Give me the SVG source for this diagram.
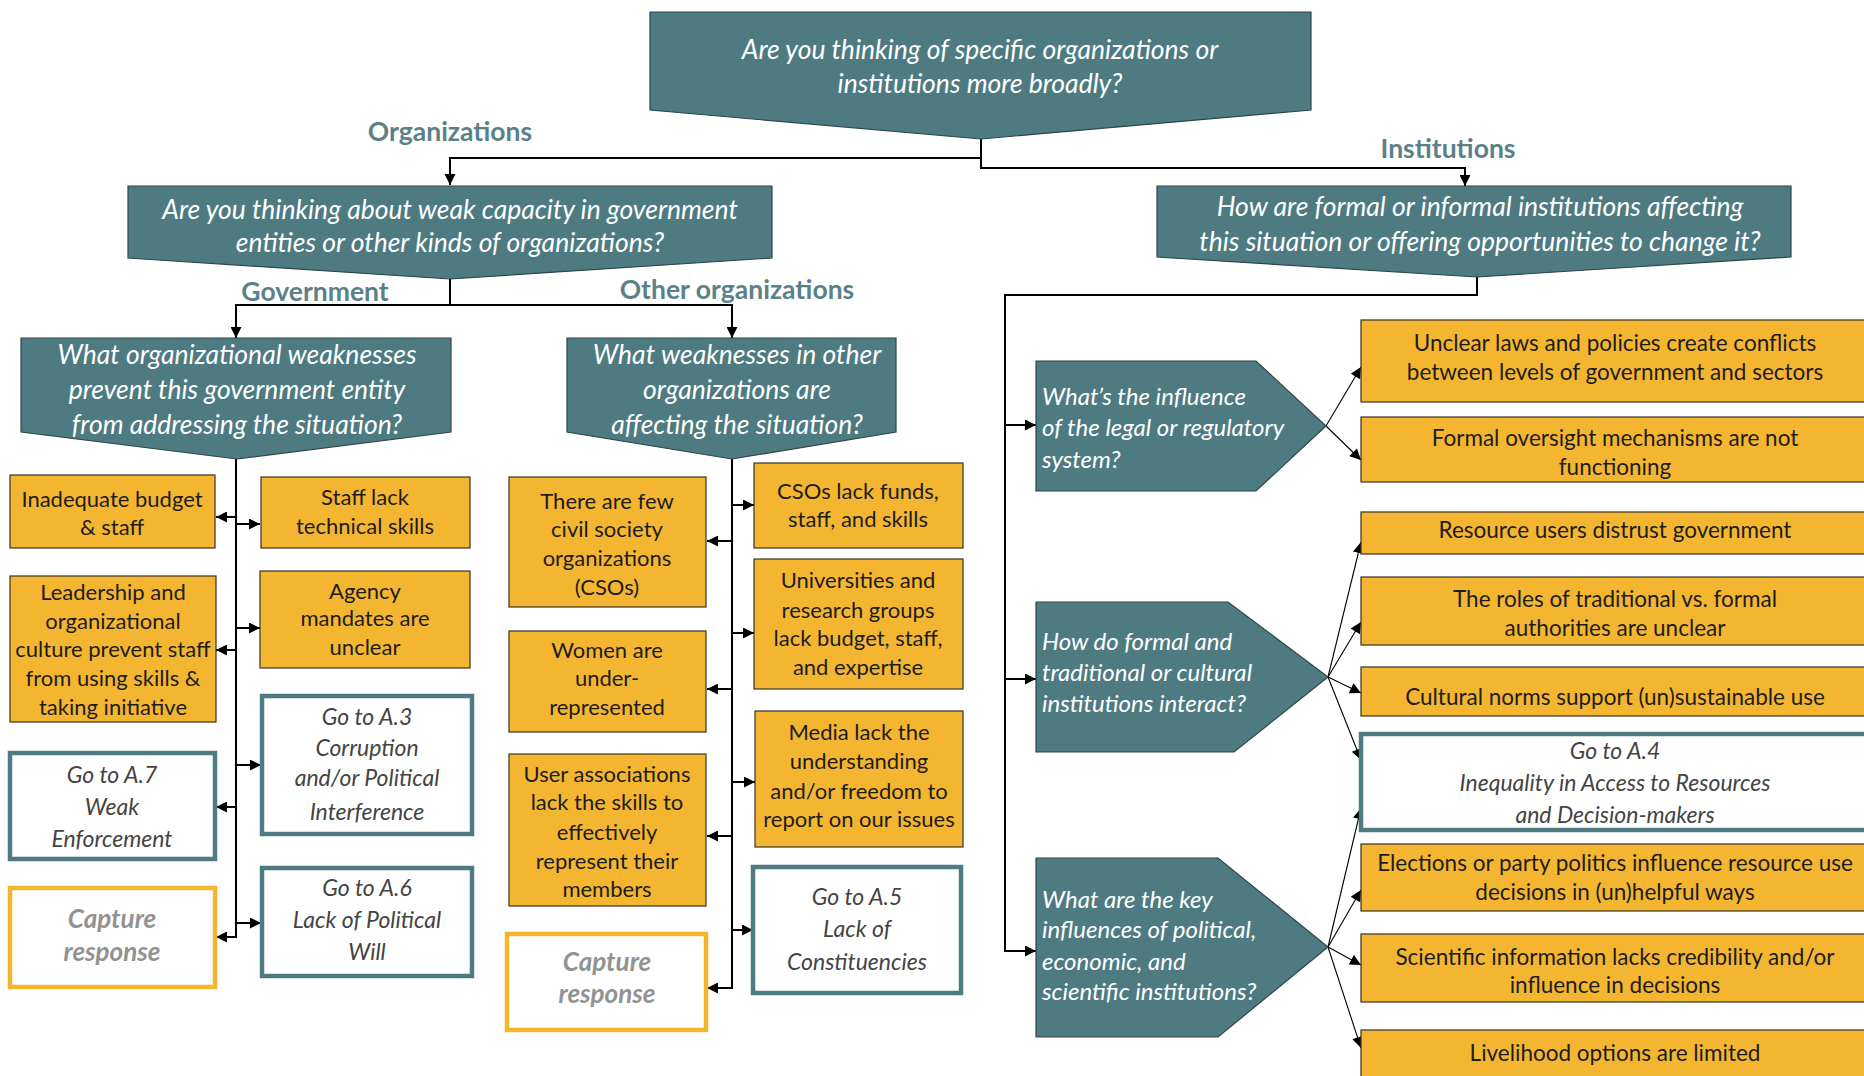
<svg xmlns="http://www.w3.org/2000/svg" width="1864" height="1076" viewBox="0 0 1864 1076">
  <defs>
    <marker id="ah" viewBox="0 0 10 10" refX="10" refY="5" markerWidth="11" markerHeight="11" orient="auto" markerUnits="userSpaceOnUse">
      <path d="M0,0 L10,5 L0,10 z" fill="#000"/>
    </marker>
    <marker id="ahs" viewBox="0 0 10 10" refX="10" refY="5" markerWidth="12" markerHeight="11" orient="auto" markerUnits="userSpaceOnUse">
      <path d="M0,0 L10,5 L0,10 z" fill="#000"/>
    </marker>
    <style>
      .q { fill: #4e7b81; stroke: #2c4649; stroke-width: 1.2; }
      .y { fill: #f4b630; stroke: #3a3222; stroke-width: 1.2; }
      .go { fill: #ffffff; stroke: #4e7b81; stroke-width: 4.5; }
      .cap { fill: #ffffff; stroke: #f4b630; stroke-width: 4.5; }
      .qt { font-family: Lato, "Open Sans", sans-serif; font-style: italic; fill: #ffffff; text-anchor: middle; font-size: 26.5px; }
      .ht { font-family: Lato, "Open Sans", sans-serif; font-style: italic; fill: #ffffff; font-size: 24px; }
      .yt { font-family: Lato, "Open Sans", sans-serif; fill: #1d1d1d; text-anchor: middle; font-size: 22px; }
      .yw { font-size: 22.5px; }
      .gt { font-family: Lato, "Open Sans", sans-serif; font-style: italic; fill: #444444; text-anchor: middle; font-size: 23px; }
      .ct { font-family: Lato, "Open Sans", sans-serif; font-style: italic; font-weight: bold; fill: #929292; text-anchor: middle; font-size: 26px; }
      .lbl { font-family: Lato, "Open Sans", sans-serif; font-weight: bold; fill: #5b8187; text-anchor: middle; font-size: 26.5px; }
      .c { fill: none; stroke: #000; stroke-width: 2; }
      .cs { fill: none; stroke: #000; stroke-width: 1.1; }
    </style>
  </defs>

  <rect width="1864" height="1076" fill="#ffffff"/>

  <!-- connectors -->
  <g id="connectors">
    <!-- top split -->
    <path class="c" d="M981,139 V158 H450 V185" marker-end="url(#ah)"/>
    <path class="c" d="M981,158 V168 H1465 V186" marker-end="url(#ah)"/>
    <!-- organizations split -->
    <path class="c" d="M450,279 V305 H236 V338" marker-end="url(#ah)"/>
    <path class="c" d="M450,305 H732 V338" marker-end="url(#ah)"/>
    <!-- government trunk -->
    <path class="c" d="M236,459 V937"/>
    <path class="c" d="M236,517 H216" marker-end="url(#ah)"/>
    <path class="c" d="M236,524 H260" marker-end="url(#ah)"/>
    <path class="c" d="M236,628 H260" marker-end="url(#ah)"/>
    <path class="c" d="M236,650 H216" marker-end="url(#ah)"/>
    <path class="c" d="M236,765 H261" marker-end="url(#ah)"/>
    <path class="c" d="M236,807 H216" marker-end="url(#ah)"/>
    <path class="c" d="M236,923 H261" marker-end="url(#ah)"/>
    <path class="c" d="M236,936 V937 H216" marker-end="url(#ah)"/>
    <!-- other organizations trunk -->
    <path class="c" d="M732,459 V988"/>
    <path class="c" d="M732,505 H754" marker-end="url(#ah)"/>
    <path class="c" d="M732,541 H707" marker-end="url(#ah)"/>
    <path class="c" d="M732,633 H754" marker-end="url(#ah)"/>
    <path class="c" d="M732,689 H707" marker-end="url(#ah)"/>
    <path class="c" d="M732,782 H755" marker-end="url(#ah)"/>
    <path class="c" d="M732,836 H707" marker-end="url(#ah)"/>
    <path class="c" d="M732,930 H753" marker-end="url(#ah)"/>
    <path class="c" d="M732,987 V988 H707" marker-end="url(#ah)"/>
    <!-- institutions trunk -->
    <path class="c" d="M1477,277 V295 H1005 V951 H1036" marker-end="url(#ah)"/>
    <path class="c" d="M1005,425 H1036" marker-end="url(#ah)"/>
    <path class="c" d="M1005,679 H1036" marker-end="url(#ah)"/>
    <!-- legal / regulatory fan -->
    <path class="cs" d="M1326,426 L1361,367" marker-end="url(#ahs)"/>
    <path class="cs" d="M1326,426 L1361,460" marker-end="url(#ahs)"/>
    <!-- formal / traditional fan -->
    <path class="cs" d="M1328,677 L1361,542" marker-end="url(#ahs)"/>
    <path class="cs" d="M1328,677 L1361,622" marker-end="url(#ahs)"/>
    <path class="cs" d="M1328,677 L1361,693" marker-end="url(#ahs)"/>
    <path class="cs" d="M1328,677 L1361,760" marker-end="url(#ahs)"/>
    <!-- political / economic / scientific fan -->
    <path class="cs" d="M1328,947 L1361,808" marker-end="url(#ahs)"/>
    <path class="cs" d="M1328,947 L1361,890" marker-end="url(#ahs)"/>
    <path class="cs" d="M1328,947 L1361,965" marker-end="url(#ahs)"/>
    <path class="cs" d="M1328,947 L1361,1048" marker-end="url(#ahs)"/>
  </g>

  <!-- branch labels -->
  <g id="labels">
    <text class="lbl" x="450" y="141">Organizations</text>
    <text class="lbl" x="1448" y="158">Institutions</text>
    <text class="lbl" x="315" y="301">Government</text>
    <text class="lbl" x="737" y="299">Other organizations</text>
  </g>

  <!-- question nodes -->
  <g id="q-top">
    <polygon class="q" points="650,12 1311,12 1311,110 981,139 650,110"/>
    <text class="qt" x="980" y="59">Are you thinking of specific organizations or</text>
    <text class="qt" x="980" y="93">institutions more broadly?</text>
  </g>

  <g id="q-organizations">
    <polygon class="q" points="128,186 772,186 772,258 450,279 128,258"/>
    <text class="qt" x="450" y="219">Are you thinking about weak capacity in government</text>
    <text class="qt" x="450" y="252">entities or other kinds of organizations?</text>
  </g>

  <g id="q-institutions">
    <polygon class="q" points="1157,186 1791,186 1791,257 1477,277 1157,257"/>
    <text class="qt" x="1480" y="216">How are formal or informal institutions affecting</text>
    <text class="qt" x="1480" y="251">this situation or offering opportunities to change it?</text>
  </g>

  <g id="q-government">
    <polygon class="q" points="21,338 451,338 451,432 237,459 21,432"/>
    <text class="qt" x="237" y="364">What organizational weaknesses</text>
    <text class="qt" x="237" y="399">prevent this government entity</text>
    <text class="qt" x="237" y="434">from addressing the situation?</text>
  </g>

  <g id="q-other">
    <polygon class="q" points="567,338 896,338 896,432 732,459 567,432"/>
    <text class="qt" x="737" y="364">What weaknesses in other</text>
    <text class="qt" x="737" y="399">organizations are</text>
    <text class="qt" x="737" y="434">affecting the situation?</text>
  </g>

  <!-- government column -->
  <g id="gov-budget">
    <rect class="y" x="10" y="475" width="205" height="73"/>
    <text class="yt" x="112" y="507">Inadequate budget</text>
    <text class="yt" x="112" y="535">&amp; staff</text>
  </g>
  <g id="gov-leadership">
    <rect class="y" x="10" y="576" width="206" height="146"/>
    <text class="yt" x="113" y="600">Leadership and</text>
    <text class="yt" x="113" y="629">organizational</text>
    <text class="yt" x="113" y="657">culture prevent staff</text>
    <text class="yt" x="113" y="686">from using skills &amp;</text>
    <text class="yt" x="113" y="715">taking initiative</text>
  </g>
  <g id="gov-goto-a7">
    <rect class="go" x="10" y="753" width="205" height="106"/>
    <text class="gt" x="112" y="783">Go to A.7</text>
    <text class="gt" x="112" y="815">Weak</text>
    <text class="gt" x="112" y="847">Enforcement</text>
  </g>
  <g id="gov-capture">
    <rect class="cap" x="10" y="888" width="205" height="99"/>
    <text class="ct" x="112" y="928">Capture</text>
    <text class="ct" x="112" y="961">response</text>
  </g>
  <g id="gov-skills">
    <rect class="y" x="261" y="477" width="209" height="71"/>
    <text class="yt" x="365" y="505">Staff lack</text>
    <text class="yt" x="365" y="534">technical skills</text>
  </g>
  <g id="gov-mandates">
    <rect class="y" x="260" y="571" width="210" height="97"/>
    <text class="yt" x="365" y="599">Agency</text>
    <text class="yt" x="365" y="626">mandates are</text>
    <text class="yt" x="365" y="655">unclear</text>
  </g>
  <g id="gov-goto-a3">
    <rect class="go" x="262" y="696" width="210" height="138"/>
    <text class="gt" x="367" y="725">Go to A.3</text>
    <text class="gt" x="367" y="756">Corruption</text>
    <text class="gt" x="367" y="786">and/or Political</text>
    <text class="gt" x="367" y="820">Interference</text>
  </g>
  <g id="gov-goto-a6">
    <rect class="go" x="262" y="868" width="210" height="108"/>
    <text class="gt" x="367" y="896">Go to A.6</text>
    <text class="gt" x="367" y="928">Lack of Political</text>
    <text class="gt" x="367" y="960">Will</text>
  </g>

  <!-- other organizations column -->
  <g id="org-few-csos">
    <rect class="y" x="509" y="477" width="197" height="130"/>
    <text class="yt" x="607" y="509">There are few</text>
    <text class="yt" x="607" y="537">civil society</text>
    <text class="yt" x="607" y="566">organizations</text>
    <text class="yt" x="607" y="595">(CSOs)</text>
  </g>
  <g id="org-women">
    <rect class="y" x="509" y="631" width="197" height="101"/>
    <text class="yt" x="607" y="658">Women are</text>
    <text class="yt" x="607" y="686">under-</text>
    <text class="yt" x="607" y="715">represented</text>
  </g>
  <g id="org-user-assoc">
    <rect class="y" x="509" y="754" width="197" height="152"/>
    <text class="yt" x="607" y="782">User associations</text>
    <text class="yt" x="607" y="810">lack the skills to</text>
    <text class="yt" x="607" y="840">effectively</text>
    <text class="yt" x="607" y="869">represent their</text>
    <text class="yt" x="607" y="897">members</text>
  </g>
  <g id="org-capture">
    <rect class="cap" x="507" y="934" width="199" height="96"/>
    <text class="ct" x="607" y="971">Capture</text>
    <text class="ct" x="607" y="1003">response</text>
  </g>
  <g id="org-cso-funds">
    <rect class="y" x="754" y="463" width="209" height="85"/>
    <text class="yt" x="858" y="499">CSOs lack funds,</text>
    <text class="yt" x="858" y="527">staff, and skills</text>
  </g>
  <g id="org-universities">
    <rect class="y" x="754" y="559" width="209" height="130"/>
    <text class="yt" x="858" y="588">Universities and</text>
    <text class="yt" x="858" y="618">research groups</text>
    <text class="yt" x="858" y="646">lack budget, staff,</text>
    <text class="yt" x="858" y="675">and expertise</text>
  </g>
  <g id="org-media">
    <rect class="y" x="755" y="711" width="208" height="136"/>
    <text class="yt" x="859" y="740">Media lack the</text>
    <text class="yt" x="859" y="769">understanding</text>
    <text class="yt" x="859" y="799">and/or freedom to</text>
    <text class="yt" x="859" y="827">report on our issues</text>
  </g>
  <g id="org-goto-a5">
    <rect class="go" x="753" y="867" width="208" height="126"/>
    <text class="gt" x="857" y="905">Go to A.5</text>
    <text class="gt" x="857" y="937">Lack of</text>
    <text class="gt" x="857" y="970">Constituencies</text>
  </g>

  <!-- institutions: pointed question nodes -->
  <g id="inst-legal">
    <polygon class="q" points="1036,361 1256,361 1326,426 1256,491 1036,491"/>
    <text class="ht" x="1042" y="405">What’s the influence</text>
    <text class="ht" x="1042" y="436">of the legal or regulatory</text>
    <text class="ht" x="1042" y="468">system?</text>
  </g>
  <g id="inst-traditional">
    <polygon class="q" points="1036,602 1228,602 1328,677 1234,752 1036,752"/>
    <text class="ht" x="1042" y="650">How do formal and</text>
    <text class="ht" x="1042" y="681">traditional or cultural</text>
    <text class="ht" x="1042" y="712">institutions interact?</text>
  </g>
  <g id="inst-political">
    <polygon class="q" points="1036,858 1218,858 1328,947 1218,1037 1036,1037"/>
    <text class="ht" x="1042" y="908">What are the key</text>
    <text class="ht" x="1042" y="938">influences of political,</text>
    <text class="ht" x="1042" y="970">economic, and</text>
    <text class="ht" x="1042" y="1000">scientific institutions?</text>
  </g>

  <!-- institutions: outcomes -->
  <g id="inst-unclear-laws">
    <rect class="y" x="1361" y="320" width="510" height="82"/>
    <text class="yt yw" x="1615" y="351">Unclear laws and policies create conflicts</text>
    <text class="yt yw" x="1615" y="380">between levels of government and sectors</text>
  </g>
  <g id="inst-oversight">
    <rect class="y" x="1361" y="417" width="510" height="65"/>
    <text class="yt yw" x="1615" y="446">Formal oversight mechanisms are not</text>
    <text class="yt yw" x="1615" y="475">functioning</text>
  </g>
  <g id="inst-distrust">
    <rect class="y" x="1361" y="512" width="510" height="42"/>
    <text class="yt yw" x="1615" y="538">Resource users distrust government</text>
  </g>
  <g id="inst-roles">
    <rect class="y" x="1361" y="577" width="510" height="68"/>
    <text class="yt yw" x="1615" y="607">The roles of traditional vs. formal</text>
    <text class="yt yw" x="1615" y="636">authorities are unclear</text>
  </g>
  <g id="inst-norms">
    <rect class="y" x="1361" y="667" width="510" height="49"/>
    <text class="yt yw" x="1615" y="705">Cultural norms support (un)sustainable use</text>
  </g>
  <g id="inst-goto-a4">
    <rect class="go" x="1361" y="734" width="510" height="96"/>
    <text class="gt" x="1615" y="759">Go to A.4</text>
    <text class="gt" x="1615" y="791">Inequality in Access to Resources</text>
    <text class="gt" x="1615" y="823">and Decision-makers</text>
  </g>
  <g id="inst-elections">
    <rect class="y" x="1361" y="844" width="510" height="67"/>
    <text class="yt yw" x="1615" y="871">Elections or party politics influence resource use</text>
    <text class="yt yw" x="1615" y="900">decisions in (un)helpful ways</text>
  </g>
  <g id="inst-science">
    <rect class="y" x="1361" y="934" width="510" height="68"/>
    <text class="yt yw" x="1615" y="965">Scientific information lacks credibility and/or</text>
    <text class="yt yw" x="1615" y="993">influence in decisions</text>
  </g>
  <g id="inst-livelihood">
    <rect class="y" x="1361" y="1030" width="510" height="60"/>
    <text class="yt yw" x="1615" y="1061">Livelihood options are limited</text>
  </g>
</svg>
